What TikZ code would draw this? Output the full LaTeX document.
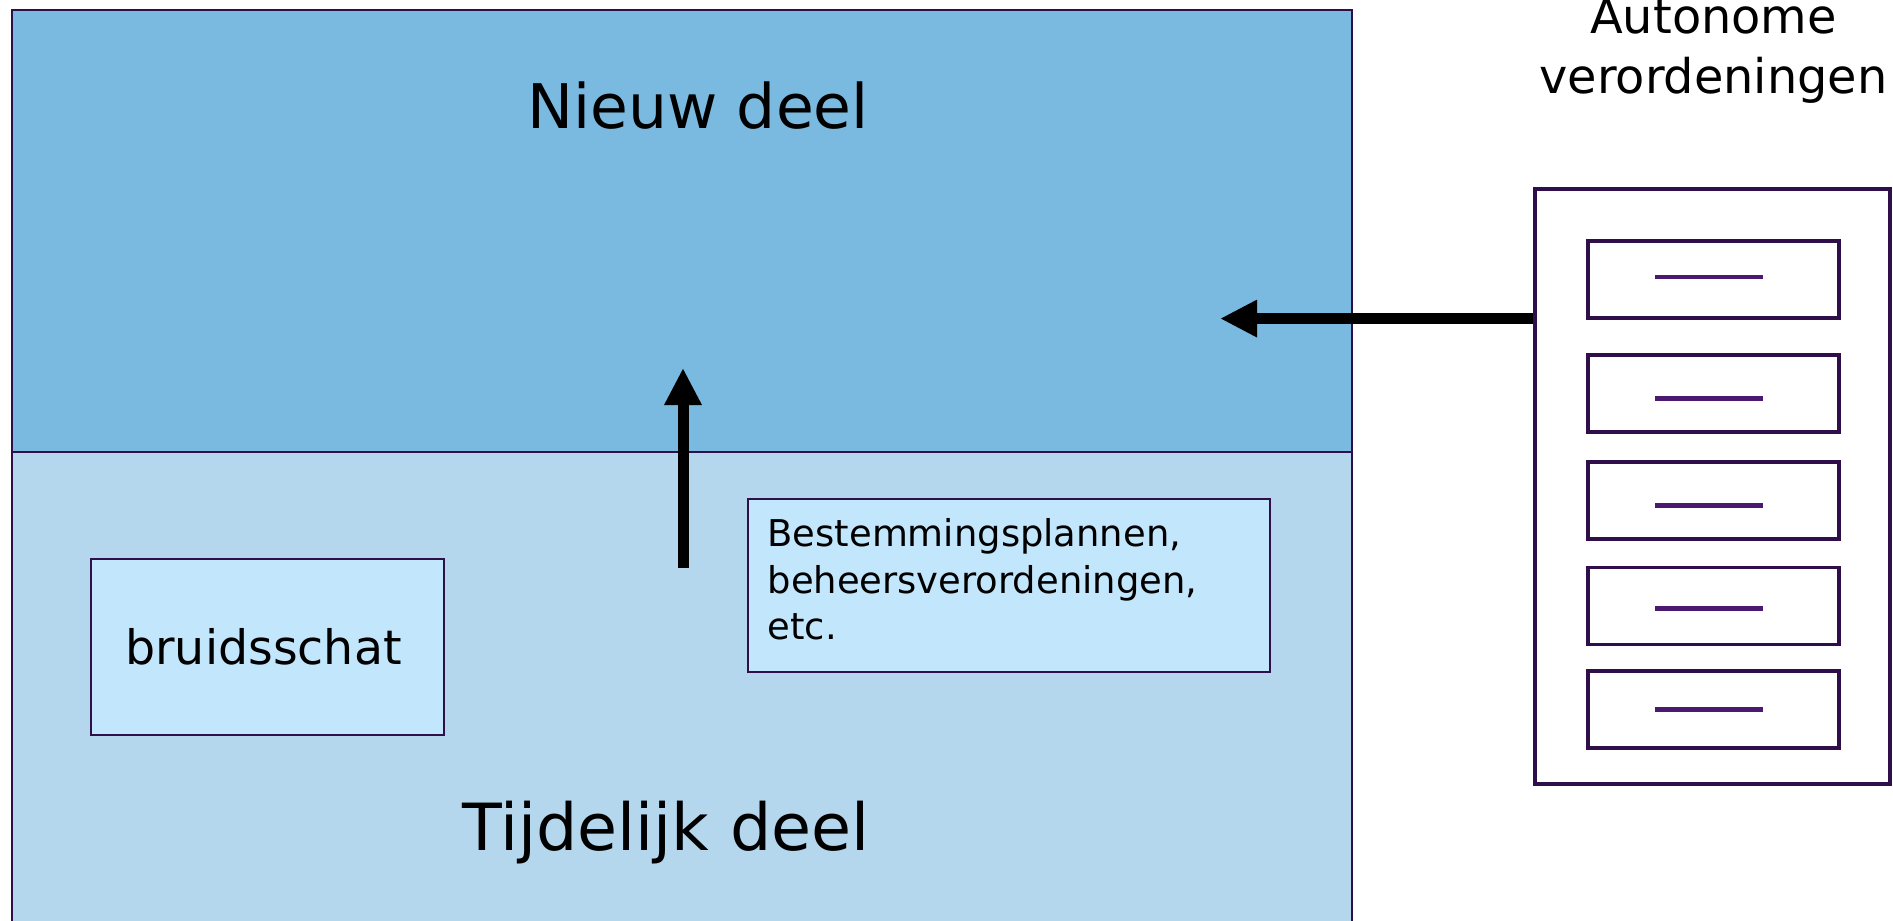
\documentclass[tikz,border=0pt]{standalone}
\usepackage{fontspec}
\setmainfont{DejaVu Sans}
\usetikzlibrary{arrows.meta,positioning,calc}
\definecolor{nieuwblauw}{HTML}{7AB9E0}
\definecolor{tijdblauw}{HTML}{B4D7ED}
\definecolor{vakblauw}{HTML}{C2E6FC}
\definecolor{rand}{HTML}{2E0F4A}
\definecolor{streep}{HTML}{4B1A6E}
\tikzset{
	deel/.style ={rectangle, draw=rand, line width=0.6pt, inner sep=0pt},
	vak/.style ={rectangle, draw=rand, line width=0.6pt, fill=vakblauw, inner sep=0pt},
	kast/.style ={rectangle, draw=rand, line width=1.1pt, fill=white, inner sep=0pt},
	la/.style = {rectangle, draw=rand, line width=1.1pt, minimum width=2.51cm, minimum height=0.77cm, inner sep=0pt},
	pijl/.style = {-{Triangle[length=0.37cm,width=0.35cm]}, line width=0.11cm, black},
	titel/.style = {anchor=base, inner sep=0pt}
}

\begin{document}
\begin{tikzpicture}
    \useasboundingbox (0,0) rectangle (18.93,9.2);
    \node[deel, fill=nieuwblauw, minimum width=13.4cm, minimum height=4.65cm] (nieuw) at (6.82,6.775) {};
    \node[deel, fill=tijdblauw, minimum width=13.4cm, minimum height=4.88cm] (tijdelijk) at (6.82,2.24) {};
    \node[titel, font=\fontsize{17.5}{21}\selectfont] (nieuwtekst) at (6.98,7.91) {Nieuw deel};
    \node[titel, font=\fontsize{18.5}{22}\selectfont] (tijdtekst) at (6.66,0.70) {Tijdelijk deel};
    
    \node[vak, minimum width=3.53cm, minimum height=1.76cm, font=\fontsize{13.5}{16}\selectfont] (bruidsschat) at (2.675,2.73) {\hspace*{-0.08cm}bruidsschat};
    \node[vak, minimum width=5.22cm, minimum height=1.73cm] (plannen) at (10.09,3.345) {};
    \node[anchor=north west, align=left, inner sep=0pt, font=\fontsize{10.5}{13.2}\selectfont] (planentekst) at ($(plannen.north west)+(0.2,-0.2)$) {Bestemmingsplannen,\\beheersverordeningen,\\etc.};
    
    \node[kast, minimum width=3.55cm, minimum height=5.95cm] (kast) at (17.125,4.335) {};
    \foreach \y/\d [count=\i] in {6.405/0.024,5.265/-0.048,4.195/-0.048,3.14/-0.024,2.105/0}{
        \node[la] (la\i) at (17.135,\y) {};
        \draw[streep, line width=1.3pt] ($(la\i)+(-0.585,\d)$) -- ($(la\i)+(0.495,\d)$);
    }
    \node[align=center, anchor=north, inner sep=0pt, font=\fontsize{13.6}{17}\selectfont] (autonoom) at (17.135,9.22) {Autonome\\verordeningen};
    
    \coordinate (opstart) at (6.83,3.52);
    \coordinate (opeind) at (6.83,5.52);
    \coordinate (linksstart) at ($(kast.north west)+(0,-1.315)$);
    \path (linksstart) ++(-3.13,0) coordinate (linkseind);
    \draw[pijl] (opstart) -- (opeind);
    \draw[pijl] (linksstart) -- (linkseind);
\end{tikzpicture}
\end{document}
